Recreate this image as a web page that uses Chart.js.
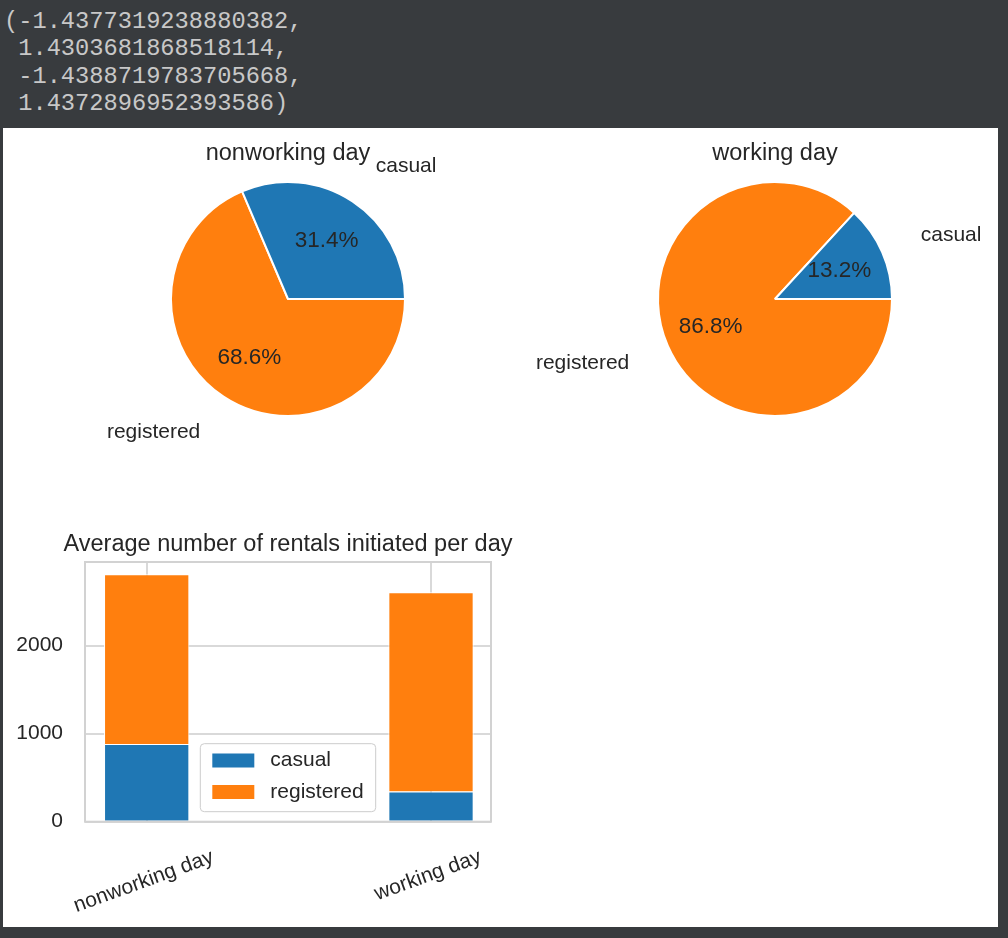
<!DOCTYPE html>
<html>
<head>
<meta charset="utf-8">
<script src="https://cdn.jsdelivr.net/npm/chart.js@4.4.1/dist/chart.umd.min.js"></script>
<style>
  html, body { margin: 0; padding: 0; background: #383b3e; width: 1008px; height: 938px; overflow: hidden; }
  #out { position: absolute; left: 4px; top: 8px; margin: 0; font-family: "Liberation Mono", "DejaVu Sans Mono", monospace; font-size: 23.7px; line-height: 27.3px; color: #c8c8c8; white-space: pre; }
  #panel { position: absolute; left: 3px; top: 128px; width: 995px; height: 799px; background: #ffffff; }
  canvas { position: absolute; }
  #pie1 { left: 20px; top: 128px; }
  #pie2 { left: 520px; top: 128px; }
  #bars { left: 0px; top: 510px; }
</style>
</head>
<body>
<pre id="out">(-1.4377319238880382,
 1.4303681868518114,
 -1.4388719783705668,
 1.4372896952393586)</pre>
<div id="panel"></div>
<canvas id="pie1" width="480" height="372" style="width:480px;height:372px"></canvas>
<canvas id="pie2" width="478" height="372" style="width:478px;height:372px"></canvas>
<canvas id="bars" width="576" height="417" style="width:576px;height:417px"></canvas>
<script>
// ---- data ----
const categories = ['nonworking day', 'working day'];
const seriesNames = ['casual', 'registered'];
const casual = [883, 343];
const registered = [1928, 2264];
const yTicks = [0, 1000, 2000];
const barTitle = 'Average number of rentals initiated per day';

// ---- styles ----
const BLUE = '#1f77b4', ORANGE = '#ff7f0e';
const TEXT = '#262626';
const FAMILY = '"Liberation Sans", Arial, sans-serif';
const GRID = '#d9d9d9';

const pieLabelPlugin = {
  id: 'pieLabels',
  afterDraw(chart) {
    const ctx = chart.ctx;
    const meta = chart.getDatasetMeta(0);
    const ds = chart.data.datasets[0];
    const total = ds.data.reduce((a, b) => a + b, 0);
    meta.data.forEach((arc, i) => {
      const p = arc.getProps(['x', 'y', 'startAngle', 'endAngle', 'outerRadius'], true);
      const mid = (p.startAngle + p.endAngle) / 2;
      const c = Math.cos(mid), s = Math.sin(mid);
      ctx.save();
      ctx.fillStyle = TEXT;
      ctx.textBaseline = 'middle';
      ctx.font = '21px ' + FAMILY;
      ctx.textAlign = c > 0 ? 'left' : 'right';
      const lr = p.outerRadius * 1.36;
      ctx.fillText(chart.data.labels[i], p.x + c * lr, p.y + s * lr);
      ctx.font = '22.5px ' + FAMILY;
      ctx.textAlign = 'center';
      const pr = p.outerRadius * 0.6;
      ctx.fillText((ds.data[i] / total * 100).toFixed(1) + '%', p.x + c * pr, p.y + s * pr);
      ctx.restore();
    });
  }
};

function makePie(id, dayIndex, padLeft, padRight) {
  // matplotlib draws counter-clockwise from 3 o'clock; Chart.js clockwise -> reverse order, start at 3 o'clock
  const names = seriesNames.slice().reverse();
  const vals = [casual[dayIndex], registered[dayIndex]].reverse();
  const cols = [BLUE, ORANGE].reverse();
  new Chart(document.getElementById(id), {
    type: 'pie',
    data: {
      labels: names,
      datasets: [{ data: vals, backgroundColor: cols, borderColor: '#ffffff', borderWidth: 2 }]
    },
    options: {
      responsive: false,
      animation: false,
      rotation: 90,
      layout: { padding: { left: padLeft, right: padRight, top: 0, bottom: 83 } },
      plugins: {
        legend: { display: false },
        tooltip: { enabled: false },
        title: {
          display: true, text: categories[dayIndex], fullSize: false,
          color: TEXT, font: { family: FAMILY, size: 23.5, weight: 'normal' },
          padding: { top: 11.9, bottom: 12.9 }
        }
      }
    },
    plugins: [pieLabelPlugin]
  });
}

makePie('pie1', 0, 150, 94);
makePie('pie2', 1, 137, 105);

// ---- bar chart ----
const framePlugin = {
  id: 'frame',
  afterDatasetsDraw(chart) {
    const { ctx, chartArea: a } = chart;
    ctx.save();
    ctx.strokeStyle = '#d2d2d2';
    ctx.lineWidth = 2;
    ctx.strokeRect(a.left, a.top, a.right - a.left, a.bottom - a.top);
    ctx.restore();
  }
};

const xLabelPlugin = {
  id: 'xLabels',
  afterDraw(chart) {
    const { ctx, chartArea: a } = chart;
    const xs = chart.scales.x;
    const ang = 20 * Math.PI / 180;
    ctx.save();
    ctx.fillStyle = TEXT;
    ctx.font = '21px ' + FAMILY;
    ctx.textAlign = 'center';
    ctx.textBaseline = 'middle';
    categories.forEach((c, i) => {
      const px = xs.getPixelForValue(i);
      const w = ctx.measureText(c).width;
      const h = 21;
      const bh = w * Math.sin(ang) + h * Math.cos(ang);
      const cy = a.bottom + 25 + bh / 2;
      ctx.save();
      ctx.translate(px - 3, cy);
      ctx.rotate(-ang);
      ctx.fillText(c, 0, 0);
      ctx.restore();
    });
    ctx.restore();
  }
};

const legendPlugin = {
  id: 'innerLegend',
  afterDraw(chart) {
    const { ctx, chartArea: a } = chart;
    const dsets = chart.data.datasets;
    ctx.save();
    ctx.font = '21px ' + FAMILY;
    const tw = Math.max(...dsets.map(d => ctx.measureText(d.label).width));
    const pad = 12, hw = 42, hh = 14, gap = 16, rowH = 31.5;
    const W = pad + hw + gap + tw + pad;
    const H = 68;
    const left = (a.left + a.right) / 2 - W / 2;
    const top = a.bottom - 10 - H;
    ctx.beginPath();
    if (ctx.roundRect) ctx.roundRect(left, top, W, H, 4); else ctx.rect(left, top, W, H);
    ctx.fillStyle = 'rgba(255,255,255,0.9)';
    ctx.fill();
    ctx.strokeStyle = '#cccccc';
    ctx.lineWidth = 1;
    ctx.stroke();
    dsets.forEach((d, i) => {
      const cy = top + 16.8 + i * rowH;
      ctx.fillStyle = d.backgroundColor;
      ctx.fillRect(left + pad, cy - hh / 2, hw, hh);
      ctx.fillStyle = TEXT;
      ctx.textAlign = 'left';
      ctx.textBaseline = 'middle';
      ctx.fillText(d.label, left + pad + hw + gap, cy);
    });
    ctx.restore();
  }
};

new Chart(document.getElementById('bars'), {
  type: 'bar',
  data: {
    datasets: [
      { label: seriesNames[0], data: casual.map((v, i) => ({ x: i, y: v })), backgroundColor: BLUE, borderColor: '#ffffff', borderWidth: 1 },
      { label: seriesNames[1], data: registered.map((v, i) => ({ x: i, y: v })), backgroundColor: ORANGE, borderColor: '#ffffff', borderWidth: 1 }
    ]
  },
  options: {
    responsive: false,
    animation: false,
    layout: { padding: { left: 0, right: 0, top: 0, bottom: 0 } },
    datasets: { bar: { categoryPercentage: 0.3, barPercentage: 1 } },
    scales: {
      x: {
        type: 'linear', stacked: true, min: -0.217, max: 1.211, offset: false,
        afterBuildTicks: s => { s.ticks = categories.map((c, i) => ({ value: i })); },
        ticks: { display: false },
        grid: { color: GRID, lineWidth: 2, drawTicks: false, offset: false },
        border: { display: false },
        afterFit: s => { s.height = 105.3; }
      },
      y: {
        stacked: true, min: 0, max: 2950,
        afterBuildTicks: s => { s.ticks = yTicks.map(v => ({ value: v })); },
        ticks: { padding: 22, color: TEXT, font: { family: FAMILY, size: 21 }, callback: v => String(v) },
        grid: { color: GRID, lineWidth: 2, drawTicks: false },
        border: { display: false },
        afterFit: s => { s.width = 85; }
      },
      yRight: {
        type: 'linear', axis: 'y', position: 'right', display: true, min: 0, max: 1,
        ticks: { display: false },
        grid: { display: false, drawTicks: false },
        border: { display: false },
        afterFit: s => { s.width = 85; }
      }
    },
    plugins: {
      legend: { display: false },
      tooltip: { enabled: false },
      title: {
        display: true, text: barTitle, fullSize: true,
        color: TEXT, font: { family: FAMILY, size: 23.5, weight: 'normal' },
        padding: { top: 20.9, bottom: 2.9 }
      }
    }
  },
  plugins: [framePlugin, xLabelPlugin, legendPlugin]
});
</script>
</body>
</html>
